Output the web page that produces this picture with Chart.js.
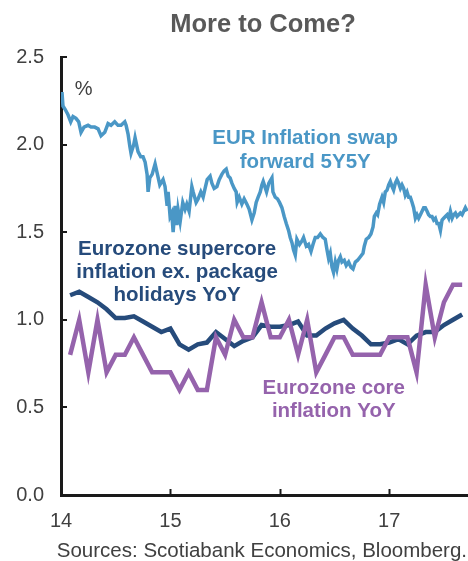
<!DOCTYPE html>
<html>
<head>
<meta charset="utf-8">
<script src="https://cdn.jsdelivr.net/npm/chart.js@4.4.1/dist/chart.umd.min.js"></script>
<style>
html,body{margin:0;padding:0;background:#fff;}
#wrap{width:468px;height:561px;position:relative;}
</style>
</head>
<body>
<div id="wrap"><canvas id="c" width="468" height="561"></canvas></div>
<script>
// ---- data ----
const titleText = 'More to Come?';
const sourceText = 'Sources: Scotiabank Economics, Bloomberg.';
const xTickValues = [14, 15, 16, 17];
const yTickValues = [0, 0.5, 1.0, 1.5, 2.0, 2.5];

// monthly series, Jan-2014 .. Aug-2017 (plotted at month end)
const monthStartYear = 14;
const coreInflation = [0.8,1.0,0.7,1.0,0.7,0.8,0.8,0.9,0.8,0.7,0.7,0.7,
  0.6,0.7,0.6,0.6,0.9,0.8,1.0,0.9,0.9,1.1,0.9,0.9,
  1.0,0.8,1.0,0.7,0.8,0.9,0.9,0.8,0.8,0.8,0.8,0.9,
  0.9,0.9,0.7,1.2,0.9,1.1,1.2,1.2];
const supercoreInflation = [1.14,1.16,1.13,1.10,1.06,1.01,1.01,1.02,0.99,0.96,0.93,0.95,
  0.86,0.83,0.86,0.87,0.93,0.89,0.85,0.88,0.90,0.97,0.96,0.96,
  0.97,0.99,0.91,0.91,0.95,0.98,1.00,0.95,0.91,0.86,0.86,0.87,
  0.89,0.86,0.91,0.93,0.93,0.97,1.00,1.03];

// EUR inflation swap forward 5Y5Y (dates as decimal years)
const swapDates = [14.009,14.018,14.039,14.064,14.089,14.110,14.137,14.162,14.183,14.210,14.247,14.274,14.308,14.339,14.366,14.400,14.430,14.457,14.491,14.521,14.549,14.583,14.595,14.613,14.629,14.640,14.665,14.677,14.704,14.729,14.750,14.769,14.787,14.796,14.812,14.833,14.860,14.878,14.903,14.933,14.951,14.970,14.979,14.997,15.012,15.025,15.043,15.059,15.070,15.089,15.113,15.134,15.150,15.171,15.196,15.208,15.235,15.253,15.278,15.299,15.317,15.336,15.363,15.379,15.400,15.425,15.446,15.470,15.491,15.510,15.528,15.546,15.562,15.583,15.601,15.610,15.629,15.653,15.674,15.699,15.720,15.745,15.766,15.784,15.802,15.821,15.836,15.848,15.879,15.900,15.928,15.937,15.958,15.979,15.997,16.019,16.040,16.059,16.080,16.095,16.111,16.125,16.141,16.156,16.180,16.202,16.217,16.242,16.263,16.285,16.303,16.324,16.345,16.370,16.394,16.415,16.431,16.446,16.461,16.477,16.491,16.507,16.522,16.537,16.553,16.568,16.589,16.607,16.629,16.650,16.669,16.690,16.711,16.736,16.760,16.772,16.790,16.812,16.833,16.852,16.864,16.882,16.894,16.912,16.934,16.949,16.964,16.980,16.995,17.010,17.026,17.040,17.056,17.071,17.086,17.102,17.117,17.132,17.147,17.163,17.178,17.193,17.209,17.223,17.239,17.254,17.269,17.285,17.300,17.315,17.330,17.346,17.360,17.376,17.391,17.406,17.422,17.437,17.452,17.468,17.483,17.498,17.513,17.529,17.544,17.559,17.575,17.589,17.605,17.620,17.635,17.650,17.666,17.681,17.696,17.712];
const swapValues = [2.30,2.22,2.20,2.17,2.13,2.16,2.15,2.13,2.07,2.10,2.11,2.10,2.10,2.09,2.05,2.07,2.12,2.11,2.13,2.11,2.11,2.13,2.11,2.06,1.99,1.95,2.00,2.04,1.96,1.93,1.93,1.90,1.83,1.73,1.81,1.83,1.89,1.84,1.77,1.80,1.76,1.65,1.73,1.59,1.61,1.50,1.65,1.54,1.63,1.56,1.67,1.63,1.66,1.62,1.76,1.73,1.67,1.69,1.73,1.70,1.75,1.80,1.82,1.78,1.75,1.76,1.80,1.83,1.85,1.86,1.82,1.81,1.78,1.75,1.73,1.67,1.70,1.66,1.69,1.66,1.63,1.57,1.61,1.67,1.70,1.73,1.77,1.79,1.73,1.78,1.81,1.73,1.70,1.69,1.67,1.64,1.59,1.55,1.51,1.47,1.44,1.40,1.37,1.46,1.43,1.45,1.47,1.42,1.43,1.39,1.43,1.47,1.47,1.49,1.47,1.46,1.40,1.35,1.38,1.30,1.27,1.33,1.29,1.34,1.36,1.33,1.34,1.31,1.33,1.30,1.29,1.33,1.34,1.36,1.38,1.42,1.46,1.47,1.49,1.53,1.59,1.61,1.60,1.66,1.70,1.67,1.73,1.74,1.77,1.79,1.76,1.74,1.78,1.80,1.78,1.75,1.77,1.75,1.71,1.73,1.70,1.70,1.67,1.64,1.58,1.60,1.58,1.60,1.62,1.64,1.64,1.62,1.60,1.59,1.59,1.57,1.58,1.55,1.55,1.51,1.57,1.58,1.59,1.60,1.58,1.62,1.58,1.60,1.61,1.59,1.60,1.61,1.60,1.62,1.64,1.62];

// ---- styling / layout ----
const COL_SWAP = '#4A97C6';
const COL_SUPER = '#264B7B';
const COL_CORE = '#9563AC';
const FONT = '"Liberation Sans", Arial, sans-serif';

const monthX = coreInflation.map((_, i) => monthStartYear + (i + 1) / 12);
const toPts = (xs, ys) => ys.map((v, i) => ({x: xs[i], y: v}));

const annotations = [
  {lines: ['%'], x: 14.206, y: 2.314, color: '#404040', bold: false, size: 20, gap: 0},
  {lines: ['EUR Inflation swap', 'forward 5Y5Y'], x: 16.232, y: 2.034, color: COL_SWAP, bold: true, size: 20.5, gap: 24},
  {lines: ['Eurozone supercore', 'inflation ex. package', 'holidays YoY'], x: 15.061, y: 1.40, color: COL_SUPER, bold: true, size: 20.5, gap: 23},
  {lines: ['Eurozone core', 'inflation YoY'], x: 16.493, y: 0.606, color: COL_CORE, bold: true, size: 20.5, gap: 22.5}
];

const decor = {
  id: 'decor',
  afterDraw(chart) {
    const {ctx, scales: {x, y}, chartArea} = chart;
    ctx.save();
    // inward tick marks
    ctx.strokeStyle = '#1a1a1a';
    ctx.lineWidth = 2;
    x.ticks.forEach(t => {
      const px = Math.round(x.getPixelForValue(t.value)) + 0.5;
      ctx.beginPath(); ctx.moveTo(px, chartArea.bottom); ctx.lineTo(px, chartArea.bottom - 6); ctx.stroke();
    });
    y.ticks.forEach(t => {
      const py = Math.round(y.getPixelForValue(t.value));
      ctx.beginPath(); ctx.moveTo(chartArea.left, py); ctx.lineTo(chartArea.left + 6, py); ctx.stroke();
    });
    // annotations
    annotations.forEach(a => {
      ctx.font = (a.bold ? 'bold ' : '') + a.size + 'px ' + FONT;
      ctx.fillStyle = a.color;
      ctx.textAlign = 'center';
      ctx.textBaseline = 'middle';
      const px = x.getPixelForValue(a.x);
      const py = y.getPixelForValue(a.y);
      a.lines.forEach((l, i) => ctx.fillText(l, px, py + i * a.gap));
    });
    // title
    ctx.font = 'bold 25.5px ' + FONT;
    ctx.fillStyle = '#595959';
    ctx.textAlign = 'center';
    ctx.textBaseline = 'alphabetic';
    ctx.fillText(titleText, 263, 32);
    // sources
    ctx.font = '20.5px ' + FONT;
    ctx.fillStyle = '#404040';
    ctx.textAlign = 'right';
    ctx.fillText(sourceText, 467, 557);
    ctx.restore();
  }
};

new Chart(document.getElementById('c'), {
  type: 'line',
  data: {
    datasets: [
      {data: toPts(swapDates, swapValues), borderColor: COL_SWAP, borderWidth: 3.5, pointRadius: 0, tension: 0},
      {data: toPts(monthX, coreInflation), borderColor: COL_CORE, borderWidth: 4.5, pointRadius: 0, tension: 0},
      {data: toPts(monthX, supercoreInflation), borderColor: COL_SUPER, borderWidth: 4.5, pointRadius: 0, tension: 0}
    ]
  },
  options: {
    responsive: false,
    animation: false,
    events: [],
    layout: {padding: {top: 57, right: 0, bottom: 0, left: 0}},
    plugins: {legend: {display: false}, tooltip: {enabled: false}, title: {display: false}},
    scales: {
      x: {
        type: 'linear', min: 14, max: 17.72,
        afterBuildTicks: s => { s.ticks = xTickValues.map(v => ({value: v})); },
        afterFit: s => { s.height = 66; },
        grid: {display: false, drawTicks: false},
        border: {display: true, color: '#1a1a1a', width: 3},
        ticks: {padding: 14, color: '#404040', font: {family: FONT, size: 20}, callback: v => String(v), maxRotation: 0, autoSkip: false}
      },
      y: {
        type: 'linear', min: 0, max: 2.5,
        afterBuildTicks: s => { s.ticks = yTickValues.map(v => ({value: v})); },
        afterFit: s => { s.width = 61; },
        grid: {display: false, drawTicks: false},
        border: {display: true, color: '#1a1a1a', width: 3},
        ticks: {padding: 17, color: '#404040', font: {family: FONT, size: 20}, callback: v => v.toFixed(1)}
      }
    }
  },
  plugins: [decor]
});
</script>
</body>
</html>
